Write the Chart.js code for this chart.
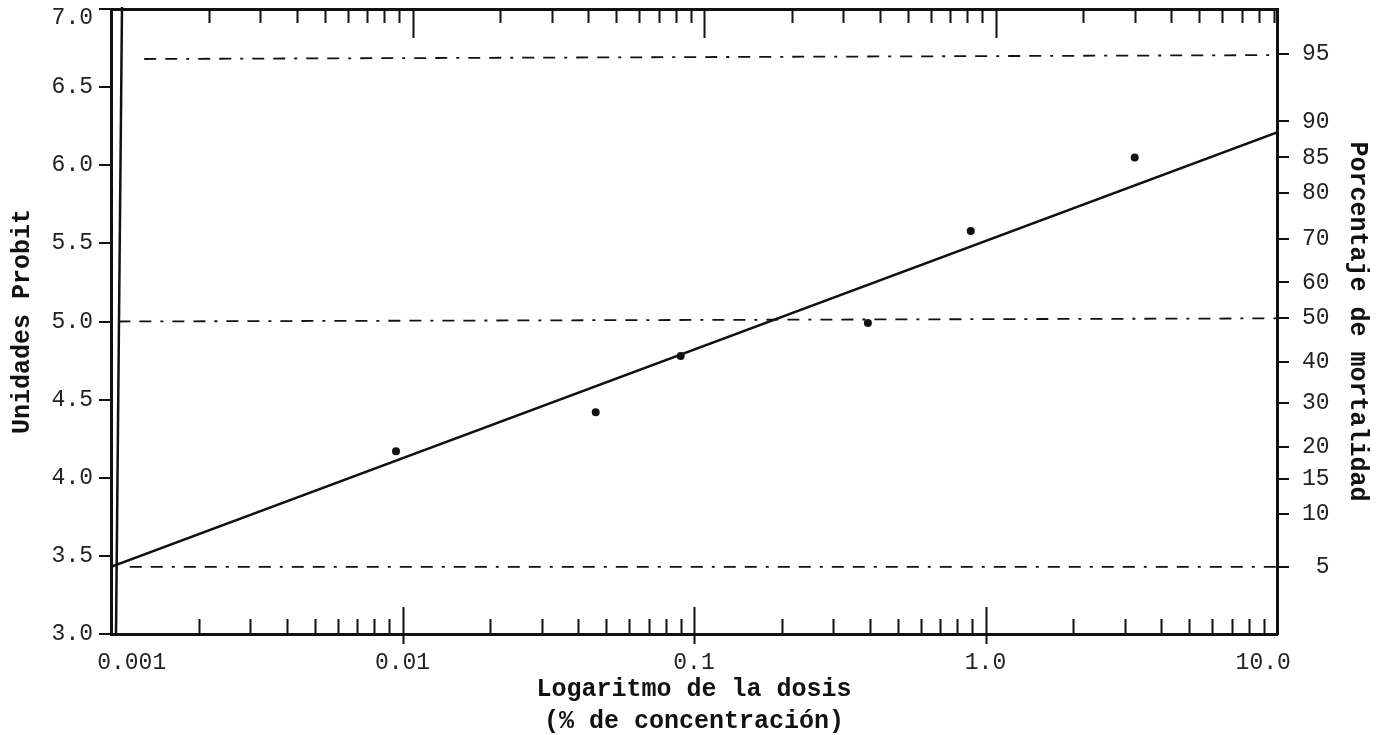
<!DOCTYPE html>
<html>
<head>
<meta charset="utf-8">
<script src="https://cdn.jsdelivr.net/npm/chart.js@4/dist/chart.umd.min.js"></script>
<style>
  html, body { margin: 0; padding: 0; background: #fff; }
  #wrap { width: 1380px; height: 735px; position: relative; }
</style>
</head>
<body>
<div id="wrap"><canvas id="probitChart"></canvas></div>
<script>
// observed points (dose %, probit)
const doseX = [0.0095, 0.046, 0.09, 0.395, 0.89, 3.25];
const probitY = [4.17, 4.42, 4.78, 4.99, 5.58, 6.05];

// fitted probit line
const fitDose = [0.001, 10];
const fitProbit = [3.43, 6.21];

// dashed reference lines (95 %, 50 %, 5 %)
const refDoseFrom = [0.0013, 0.00106, 0.00116];
const refDoseTo = [10, 10, 10];
const refProbitFrom = [6.68, 5.0, 3.43];
const refProbitTo = [6.705, 5.02, 3.43];

// axes
const decades = [0.001, 0.01, 0.1, 1, 10];
const xLabels = ['0.001', '0.01', '0.1', '1.0', '10.0'];
const minorSteps = [2, 3, 4, 5, 6, 7, 8, 9];
const yTicks = [3.0, 3.5, 4.0, 4.5, 5.0, 5.5, 6.0, 6.5, 7.0];
const pctLabels = ['95', '90', '85', '80', '70', '60', '50', '40', '30', '20', '15', '10', '5'];
const pctProbit = [6.71, 6.28, 6.05, 5.82, 5.53, 5.25, 5.02, 4.74, 4.48, 4.20, 3.99, 3.77, 3.43];

const xTickValues = decades.flatMap((d, i) =>
  i < decades.length - 1 ? [d, ...minorSteps.map(m => +(m * d).toPrecision(3))] : [d]);

const INK = '#111';
const MONO = "'Liberation Mono', 'DejaVu Sans Mono', monospace";

// fixed box sizes so the plot frame sits where the original one does
const fixSize = (w, h) => s => {
  if (w != null) s.width = w;
  if (h != null) s.height = h;
  s.paddingTop = 0; s.paddingBottom = 0; s.paddingLeft = 0; s.paddingRight = 0;
};

// inward tick marks on the log axes + the second (inner) left frame line
const frameTicks = {
  id: 'frameTicks',
  afterDraw(chart) {
    const { ctx, chartArea: a, scales: { x, x2 } } = chart;
    ctx.save();
    ctx.strokeStyle = INK;
    ctx.lineWidth = 2;
    ctx.beginPath();
    xTickValues.forEach((t, i) => {
      if (i === 0 || i === xTickValues.length - 1) return;
      const major = decades.includes(t);
      const px = Math.round(x.getPixelForValue(t)) + 0.5;
      ctx.moveTo(px, major ? a.bottom + 10 : a.bottom);
      ctx.lineTo(px, a.bottom - (major ? 27 : 15));
      if (t > x2.min && t < x2.max) {
        const pt = Math.round(x2.getPixelForValue(t)) + 0.5;
        ctx.moveTo(pt, a.top);
        ctx.lineTo(pt, a.top + (major ? 29 : 14));
      }
    });
    ctx.stroke();
    ctx.lineWidth = 2.5;
    ctx.beginPath();
    ctx.moveTo(a.left + 5, a.bottom);
    ctx.lineTo(a.left + 11, a.top - 2);
    ctx.stroke();
    ctx.restore();
  }
};

const refSets = refProbitFrom.map((y0, i) => ({
  label: 'ref' + i,
  data: [{ x: refDoseFrom[i], y: y0 }, { x: refDoseTo[i], y: refProbitTo[i] }],
  showLine: true,
  borderColor: INK,
  borderWidth: 1.8,
  borderDash: [12, 9, 12, 9, 3, 9],
  pointRadius: 0
}));

new Chart(document.getElementById('probitChart').getContext('2d'), {
  type: 'scatter',
  data: {
    datasets: [
      {
        label: 'Observado',
        data: doseX.map((d, i) => ({ x: d, y: probitY[i] })),
        pointRadius: 4,
        backgroundColor: INK,
        borderWidth: 0
      },
      {
        label: 'Recta probit',
        data: fitDose.map((d, i) => ({ x: d, y: fitProbit[i] })),
        showLine: true,
        borderColor: INK,
        borderWidth: 2.6,
        pointRadius: 0
      },
      ...refSets
    ]
  },
  options: {
    responsive: true,
    maintainAspectRatio: false,
    animation: false,
    layout: { padding: 0, autoPadding: false },
    plugins: { legend: { display: false }, tooltip: { enabled: false } },
    scales: {
      x: {
        type: 'logarithmic',
        position: 'bottom',
        min: 0.001,
        max: 10,
        afterBuildTicks: s => { s.ticks = xTickValues.map(v => ({ value: v })); },
        afterFit: fixSize(null, 101),
        grid: { display: false, drawTicks: false },
        border: { display: true, color: INK, width: 3 },
        ticks: {
          autoSkip: false,
          maxRotation: 0,
          padding: 15,
          color: '#222',
          font: { family: MONO, size: 23 },
          callback: (v) => {
            const i = decades.indexOf(v);
            if (i < 0) return '';
            if (i === 0) return '   ' + xLabels[i];
            if (i === decades.length - 1) return xLabels[i] + '  ';
            return xLabels[i];
          }
        },
        title: {
          display: true,
          text: ['Logaritmo de la dosis', '(% de concentración)'],
          color: '#111',
          font: { family: MONO, size: 25, weight: 'bold', lineHeight: 1.28 },
          padding: { top: 0, bottom: -3 }
        }
      },
      x2: {
        type: 'logarithmic',
        position: 'top',
        min: 0.000924,
        max: 9.24,
        afterFit: fixSize(null, 9),
        grid: { display: false, drawTicks: false },
        border: { display: true, color: INK, width: 3 },
        ticks: { display: false }
      },
      y: {
        type: 'linear',
        position: 'left',
        min: 3,
        max: 7,
        afterBuildTicks: s => { s.ticks = yTicks.map(v => ({ value: v })); },
        afterFit: fixSize(111, null),
        grid: { display: true, drawOnChartArea: false, drawTicks: true, tickLength: 12, color: INK, lineWidth: 2 },
        border: { display: true, color: INK, width: 3 },
        ticks: {
          padding: 6,
          color: '#222',
          font: { family: MONO, size: 23, lineHeight: 0.75 },
          // top label sits just under the frame, as in the original
          callback: (v, i) => i === yTicks.length - 1 ? ['', Number(v).toFixed(1)] : Number(v).toFixed(1)
        },
        title: {
          display: true,
          text: 'Unidades Probit',
          color: '#111',
          font: { family: MONO, size: 25, weight: 'bold' },
          padding: { top: 8, bottom: 0 }
        }
      },
      y2: {
        type: 'linear',
        position: 'right',
        min: 3,
        max: 7,
        afterBuildTicks: s => { s.ticks = pctProbit.map(v => ({ value: v })); },
        afterFit: fixSize(103, null),
        grid: { display: true, drawOnChartArea: false, drawTicks: true, tickLength: 12, color: INK, lineWidth: 2 },
        border: { display: true, color: INK, width: 3 },
        ticks: {
          padding: 13,
          crossAlign: 'near',
          autoSkip: false,
          color: '#222',
          font: { family: MONO, size: 23 },
          // monospace: pad to two characters so the labels line up on the right
          callback: (v, i) => pctLabels[i].padStart(2, ' ')
        },
        title: {
          display: true,
          text: 'Porcentaje de mortalidad',
          color: '#111',
          font: { family: MONO, size: 25, weight: 'bold' },
          padding: { top: 8, bottom: 0 }
        }
      }
    }
  },
  plugins: [frameTicks]
});
</script>
</body>
</html>
